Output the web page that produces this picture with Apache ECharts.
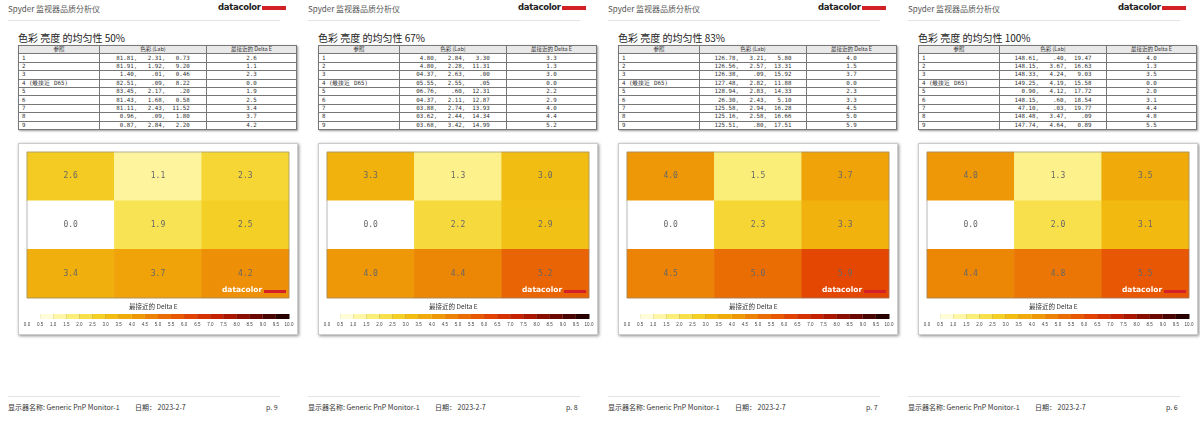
<!DOCTYPE html>
<html>
<head>
<meta charset="utf-8">
<script src="https://cdn.jsdelivr.net/npm/echarts@6/dist/echarts.min.js"></script>
<style>
body{margin:0;width:1200px;height:424px;background:#fff;font-family:"Noto Sans CJK SC","Noto Sans",sans-serif;position:relative;overflow:hidden}
.page{position:absolute;top:0;width:300px;height:424px}
.hd{position:absolute;left:8px;top:3px;font-size:8px;color:#555}
.logo{position:absolute;left:218px;top:2px;font-size:8.5px;font-weight:bold;color:#222;font-family:"DejaVu Sans",sans-serif;letter-spacing:-0.3px}
.logo i{display:inline-block;width:24px;height:4px;background:#d42027;margin-left:1px;vertical-align:0px}
.rule{position:absolute;left:8px;width:272px;height:1px;background:#e4e4e4}
.ttl{position:absolute;left:18px;top:30px;font-size:10px;color:#222}
table{position:absolute;left:18px;top:45px;width:279px;border-collapse:collapse;font-family:"DejaVu Sans Mono",monospace;font-size:5.8px;color:#333;box-shadow:1px 1px 2px #999}
td{border:0.6px solid #777;height:7.4px;padding:0 3px;line-height:7px;white-space:pre}
tr.h td{background:#e8e8e8;text-align:center;font-family:"Noto Sans CJK SC",sans-serif;font-size:5.5px}
.chart{position:absolute;left:18px;top:143px;width:278px;height:190px;box-shadow:1px 1px 3px #888;border:0.5px solid #ccc}
.ft{position:absolute;top:402px;font-size:7px;color:#333}
</style>
</head>
<body>
<script>
var levels = ['50%', '67%', '83%', '100%'];
var pageNos = ['p. 9', 'p. 8', 'p. 7', 'p. 6'];
var zoneNames = ['1', '2', '3', '4 (最接近 D65)', '5', '6', '7', '8', '9'];
var labValues = [
    ['81.81,   2.31,   0.73', '81.91,   1.92,   9.20', ' 1.40,    .01,   0.46', '82.51,    .09,   8.22', '83.45,   2.17,    .20', '81.43,   1.68,   0.58', '81.11,   2.43,  11.52', ' 0.96,    .09,   1.80', ' 0.87,   2.84,   2.20'],
    [' 4.80,   2.84,   3.30', ' 4.80,   2.28,  11.31', '04.37,   2.63,    .00', '05.55,   2.55,    .05', '06.76,    .60,  12.31', '04.37,   2.11,  12.87', '03.88,   2.74,  13.93', '03.62,   2.44,  14.34', '03.68,   3.42,  14.99'],
    ['126.78,   3.21,   5.80', '126.56,   2.57,  13.31', '126.38,    .09,  15.92', '127.48,   2.82,  11.88', '128.94,   2.83,  14.33', ' 26.30,   2.43,   5.10', '125.58,   2.94,  16.28', '125.16,   2.58,  16.66', '125.51,    .80,  17.51'],
    ['148.61,    .40,  19.47', '148.15,   3.67,  16.63', '148.33,   4.24,   9.03', '149.25,   4.19,  15.58', '  0.90,   4.12,  17.72', '148.15,    .60,  18.54', ' 47.10,    .03,  19.77', '148.48,   3.47,    .09', '147.74,   4.64,   0.89']
];
var deltaE = [
    [2.6, 1.1, 2.3, 0.0, 1.9, 2.5, 3.4, 3.7, 4.2],
    [3.3, 1.3, 3.0, 0.0, 2.2, 2.9, 4.0, 4.4, 5.2],
    [4.0, 1.5, 3.7, 0.0, 2.3, 3.3, 4.5, 5.0, 5.9],
    [4.0, 1.3, 3.5, 0.0, 2.0, 3.1, 4.4, 4.8, 5.5]
];
var legendStops = [0, 0.5, 1, 1.5, 2, 2.5, 3, 3.5, 4, 4.5, 5, 5.5, 6, 6.5, 7, 7.5, 8, 8.5, 9, 9.5];
var colorRamp = ['#ffffff', '#fffcd8', '#fff6a8', '#fbee78', '#f7e04c', '#f4cf26', '#f2bd12', '#f0ab0a', '#ee9808', '#ec8306',
    '#ea6d04', '#e85703', '#e24302', '#d63201', '#c42200', '#aa1600', '#8a0e00', '#6a0800', '#480400', '#260100', '#000000'];

levels.forEach(function(lv, p) {
    var page = document.createElement('div');
    page.className = 'page';
    page.style.left = (p * 300) + 'px';
    var rows = '<tr class="h"><td style="width:74px">参照</td><td style="width:100px">色彩 (Lab)</td><td>最接近的 Delta E</td></tr>';
    for (var i = 0; i < 9; i++) {
        rows += '<tr><td>' + zoneNames[i] + '</td><td style="text-align:center">' + labValues[p][i] +
            '</td><td style="text-align:center">' + deltaE[p][i].toFixed(1) + '</td></tr>';
    }
    page.innerHTML =
        '<div class="hd">Spyder 监视器品质分析仪</div>' +
        '<div class="logo">datacolor<i></i></div>' +
        '<div class="rule" style="top:20px"></div>' +
        '<div class="ttl">色彩 亮度 的均匀性 ' + lv + '</div>' +
        '<table>' + rows + '</table>' +
        '<div class="chart" id="c' + p + '"></div>' +
        '<div class="rule" style="top:396px"></div>' +
        '<div class="ft" style="left:8px">显示器名称: Generic PnP Monitor-1</div>' +
        '<div class="ft" style="left:135px">日期：  2023-2-7</div>' +
        '<div class="ft" style="left:266px">' + pageNos[p] + '</div>';
    document.body.appendChild(page);

    var cells = [];
    for (var k = 0; k < 9; k++) cells.push([k % 3, Math.floor(k / 3), deltaE[p][k]]);

    var chart = echarts.init(document.getElementById('c' + p));
    chart.setOption({
        animation: false,
        grid: [
            { left: 8, top: 8, width: 262, height: 146, show: true, borderColor: '#888', borderWidth: 0.6, z: 3, backgroundColor: 'transparent' },
            { left: 8, top: 170, width: 262, height: 5 }
        ],
        visualMap: { show: false, min: 0, max: 10, seriesIndex: 0, inRange: { color: colorRamp } },
        xAxis: [
            { type: 'category', gridIndex: 0, data: ['a', 'b', 'c'], show: false },
            { type: 'value', gridIndex: 1, min: 0, max: 10, interval: 0.5,
              axisLine: { show: false }, splitLine: { show: false },
              axisTick: { show: true, inside: true, length: 5, lineStyle: { color: '#333', width: 0.6 } },
              axisLabel: { fontSize: 4.5, color: '#444', margin: 3, formatter: function(v) { return v.toFixed(1); } } }
        ],
        yAxis: [
            { type: 'category', gridIndex: 0, data: ['r1', 'r2', 'r3'], inverse: true, show: false },
            { type: 'value', gridIndex: 1, min: 0, max: 1, show: false }
        ],
        series: [
            { type: 'heatmap', xAxisIndex: 0, yAxisIndex: 0, data: cells,
              label: { show: true, fontFamily: 'DejaVu Sans Mono', fontSize: 8, color: '#666',
                       formatter: function(d) { return d.value[2].toFixed(1); } } },
            { type: 'custom', xAxisIndex: 1, yAxisIndex: 1, data: legendStops,
              renderItem: function(params, api) {
                  var v = api.value(0);
                  var a = api.coord([v, 1]), b = api.coord([v + 0.5, 0]);
                  return { type: 'rect', shape: { x: a[0], y: a[1], width: b[0] - a[0], height: b[1] - a[1] },
                           style: { fill: colorRamp[params.dataIndex] } };
              } }
        ],
        graphic: [
            { type: 'text', left: 110, top: 159, style: { text: '最接近的 Delta E', fontSize: 6.5, fill: '#333', fontFamily: 'Noto Sans CJK SC' } },
            { type: 'text', left: 203, top: 142, z: 10, style: { text: 'datacolor', fontSize: 7.5, fontWeight: 'bold', fill: '#fff', fontFamily: 'DejaVu Sans' } },
            { type: 'rect', left: 245, top: 146, z: 10, shape: { width: 22, height: 3 }, style: { fill: '#d42027' } }
        ]
    });
});
</script>
</body>
</html>
